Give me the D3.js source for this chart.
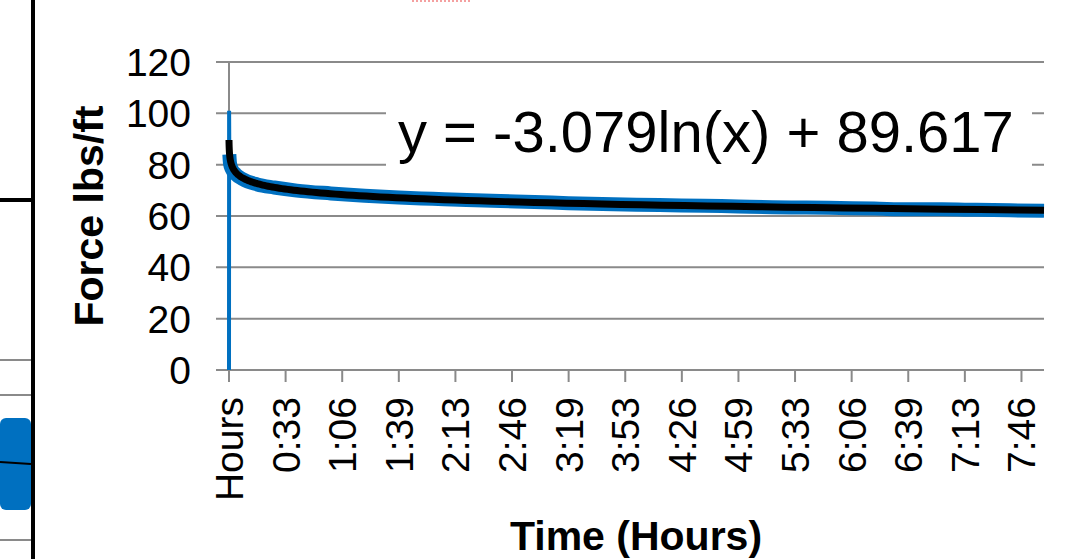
<!DOCTYPE html>
<html>
<head>
<meta charset="utf-8">
<script src="https://cdn.jsdelivr.net/npm/d3@7/dist/d3.min.js"></script>
<style>
body { margin: 0; background: #fff; }
svg { display: block; font-family: "Liberation Sans", Arial, sans-serif; }
</style>
</head>
<body>
<svg width="1080" height="559"></svg>
<script>
// y axis values
const yTicks = [0, 20, 40, 60, 80, 100, 120];
// category labels, one every 500 samples
const tickLabels = ["Hours", "0:33", "1:06", "1:39", "2:13", "2:46", "3:19", "3:53",
    "4:26", "4:59", "5:33", "6:06", "6:39", "7:13", "7:46"];
const tickEvery = 500;
const sampleCount = 7200;

const sampleIdx = [1, 2, 4, 10, 25, 60, 120, 250, 400, 600, 900, 1200, 1500, 1800, 2100,
    2400, 2700, 3000, 3300, 3600, 3900, 4200, 4500, 4800, 5100, 5400, 5700, 6000, 6300,
    6600, 6900, 7200];
const force = [0, 101, 84, 80.5, 78.3, 76.3, 74.4, 72.3, 71.1, 69.9, 68.8, 67.9, 67.2, 66.7,
    66.2, 65.8, 65.5, 65.0, 64.7, 64.4, 64.2, 64.0, 63.7, 63.4, 63.3, 63.1, 62.9, 62.6,
    62.6, 62.4, 62.2, 62.0];

// log trendline shown on the chart: y = a ln(x) + b
const trendA = -3.079;
const trendB = 89.617;

const svg = d3.select("svg");
const grey = "#8a8a8a";

const x = d3.scaleLinear().domain([1, sampleCount]).range([229, 1044]);
const y = d3.scaleLinear().domain([0, 120]).range([370, 62]);

// bits of the neighbouring slide content on the left
const side = svg.append("g");
[360, 395, 503, 540].forEach(py => {
    side.append("line").attr("x1", 0).attr("x2", 31).attr("y1", py).attr("y2", py)
        .attr("stroke", grey).attr("stroke-width", 2);
});
side.append("rect").attr("x", 0).attr("y", 418).attr("width", 31).attr("height", 92)
    .attr("rx", 6).attr("fill", "#0070c0");
side.append("line").attr("x1", 0).attr("x2", 31).attr("y1", 462).attr("y2", 464)
    .attr("stroke", "#000").attr("stroke-width", 2);
side.append("line").attr("x1", 33).attr("x2", 33).attr("y1", 0).attr("y2", 559)
    .attr("stroke", "#000").attr("stroke-width", 4);
side.append("line").attr("x1", 0).attr("x2", 33).attr("y1", 200).attr("y2", 200)
    .attr("stroke", "#000").attr("stroke-width", 4);
svg.append("line").attr("x1", 412).attr("x2", 472).attr("y1", 1).attr("y2", 1)
    .attr("stroke", "#f4a0a0").attr("stroke-width", 2).attr("stroke-dasharray", "2 2");

// gridlines + y tick stubs
svg.append("g").selectAll("line").data(yTicks).join("line")
    .attr("x1", 216).attr("x2", 1044)
    .attr("y1", d => y(d)).attr("y2", d => y(d))
    .attr("stroke", grey).attr("stroke-width", 2);

// y axis line
svg.append("line").attr("x1", 229).attr("x2", 229).attr("y1", y(120)).attr("y2", y(0))
    .attr("stroke", grey).attr("stroke-width", 2);

// x ticks
const tickPos = tickLabels.map((_, i) => 1 + i * tickEvery);
svg.append("g").selectAll("line").data(tickPos).join("line")
    .attr("x1", d => x(d)).attr("x2", d => x(d))
    .attr("y1", y(0)).attr("y2", y(0) + 12)
    .attr("stroke", grey).attr("stroke-width", 2);

// y tick labels
svg.append("g").selectAll("text").data(yTicks).join("text")
    .attr("x", 191).attr("y", d => y(d) + 14)
    .attr("text-anchor", "end")
    .attr("font-size", 39).attr("fill", "#000")
    .text(d => d);

// x tick labels, rotated
svg.append("g").selectAll("text").data(tickLabels).join("text")
    .attr("transform", (d, i) => `translate(${x(tickPos[i]) + 14},397) rotate(-90)`)
    .attr("text-anchor", "end")
    .attr("font-size", 39).attr("fill", "#000")
    .text(d => d);

// measured series
const pts = sampleIdx.map((s, i) => [s, force[i]]);
const line = d3.line().x(d => x(d[0])).y(d => y(d[1]));
svg.append("path").datum(pts.slice(0, 3))
    .attr("d", line).attr("fill", "none")
    .attr("stroke", "#0070c0").attr("stroke-width", 4);
svg.append("path").datum(pts.slice(2))
    .attr("d", line.curve(d3.curveMonotoneX)).attr("fill", "none")
    .attr("stroke", "#0070c0").attr("stroke-width", 14)
    .attr("stroke-linejoin", "round");

// trendline
const trendX = d3.range(0, Math.log(sampleCount), 0.05).map(Math.exp).concat([sampleCount]);
svg.append("path").datum(trendX.map(s => [s, trendA * Math.log(s) + trendB]))
    .attr("d", d3.line().x(d => x(d[0])).y(d => y(d[1])))
    .attr("fill", "none").attr("stroke", "#000").attr("stroke-width", 7);

// trendline equation box
svg.append("rect").attr("x", 386).attr("y", 90).attr("width", 646).attr("height", 95)
    .attr("fill", "#fff");
svg.append("text").attr("x", 398).attr("y", 152)
    .attr("font-size", 58).attr("fill", "#000")
    .text(`y = ${trendA}ln(x) + ${trendB}`);

// axis titles
svg.append("text")
    .attr("transform", "translate(103,216) rotate(-90)")
    .attr("text-anchor", "middle")
    .attr("font-size", 41).attr("font-weight", "bold")
    .text("Force lbs/ft");
svg.append("text").attr("x", 636).attr("y", 550)
    .attr("text-anchor", "middle")
    .attr("font-size", 41).attr("font-weight", "bold")
    .text("Time (Hours)");
</script>
</body>
</html>
